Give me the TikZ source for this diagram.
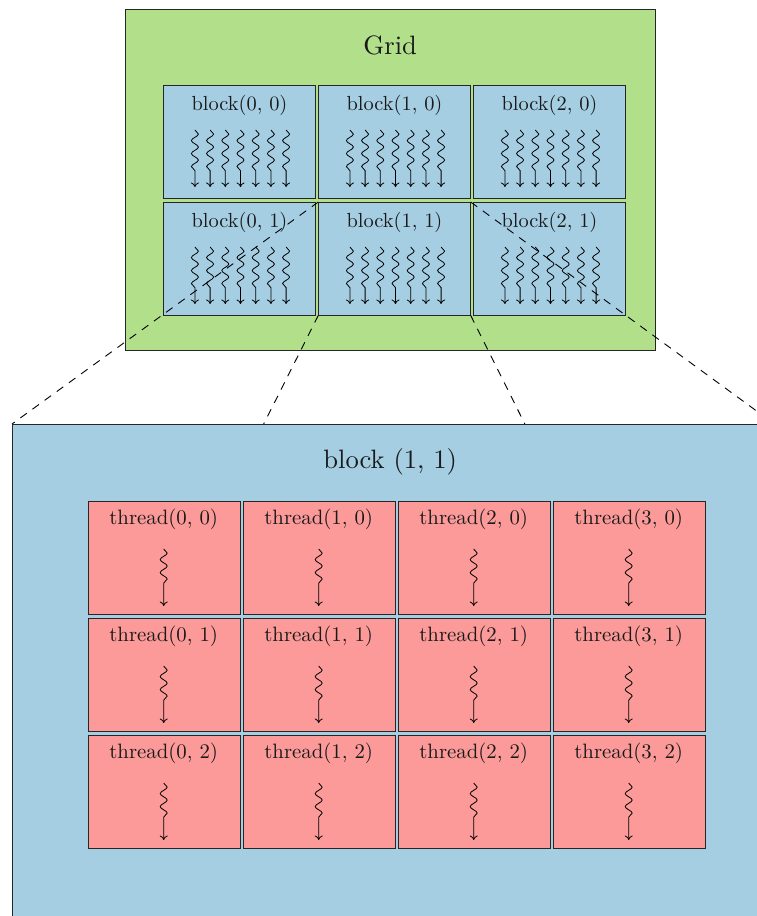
\documentclass[tikz,border=0pt]{standalone}
\usepackage{fontspec}
\setmainfont{lmroman10-regular.otf}
\usetikzlibrary{decorations.pathmorphing,arrows.meta}
\definecolor{gridgreen}{HTML}{B2DF8A}
\definecolor{blockblue}{HTML}{A6CEE3}
\definecolor{threadred}{HTML}{FB9A99}
\pgfdeclarelayer{lower}
\pgfdeclarelayer{dashes}
\pgfsetlayers{lower,dashes,main}
\begin{document}
\begin{tikzpicture}[x=1pt,y=-1pt,line width=0.9pt,
  cellbox/.style={draw=black!85,minimum width=152pt,minimum height=113pt,inner sep=0pt,anchor=north west},
  blockbox/.style={cellbox,fill=blockblue},
  threadbox/.style={cellbox,fill=threadred},
  gridbox/.style={draw=black!85,fill=gridgreen,minimum width=530pt,minimum height=341pt,inner sep=0pt,anchor=north west},
  bigbox/.style={draw=black!85,fill=blockblue,minimum width=762pt,minimum height=500pt,inner sep=0pt,anchor=north west},
  blocklabel/.style={font=\fontsize{20.4}{24}\selectfont,inner sep=0pt,text=black!90},
  threadlabel/.style={font=\fontsize{20.8}{25}\selectfont,inner sep=0pt,text=black!90},
  titlelabel/.style={font=\fontsize{26.6}{32}\selectfont,inner sep=0pt,text=black!90},
  squig/.style={-{To[length=4.5pt,width=8pt]},line width=0.8pt,decorate,decoration={snake,amplitude=3.5pt,segment length=13pt,post length=#1}},
  squig/.default=10pt,
  dashline/.style={line width=0.9pt,dash pattern=on 8pt off 7pt}
]
\useasboundingbox (0,0) rectangle (756,916);

\begin{pgfonlayer}{lower}
  \node[gridbox] (grid) at (125,9.3) {};
  \node[titlelabel] (gridtitle) at ([yshift=-35.7pt]grid.north) {Grid};
  \foreach \i in {0,1,2}{
    \foreach \j in {0,1}{
      \node[blockbox] (b\i\j) at ({163.3+155*\i},{85+117*\j}) {};
      \node[blocklabel] (bl\i\j) at ([yshift=-20pt]b\i\j.north) {block(\i, \j)};
      \foreach \k in {-3,...,3}{
        \draw[squig] ([xshift={\k*15.2pt+1pt},yshift=-45pt]b\i\j.north) -- ++(0,57);
      }
    }
  }
\end{pgfonlayer}

\node[bigbox] (big) at (12,424) {};
\node[titlelabel] (bigtitle) at ([xshift=-3pt,yshift=-38pt]big.north) {block (1, 1)};
\foreach \i in {0,1,2,3}{
  \foreach \j in {0,1,2}{
    \node[threadbox] (t\i\j) at ({87.5+155*\i},{501+117*\j}) {};
    \node[threadlabel] (tl\i\j) at ([yshift=-18pt]t\i\j.north) {thread(\i, \j)};
    \draw[squig=17pt] ([yshift=-48pt]t\i\j.north) -- ++(0,57);
  }
}

\begin{pgfonlayer}{dashes}
  \draw[dashline] (b11.north west) -- (big.north west);
  \draw[dashline] (b11.north east) -- (big.north east);
  \draw[dashline] (b11.south west) -- (big.south west);
  \draw[dashline] (b11.south east) -- (big.south east);
\end{pgfonlayer}
\end{tikzpicture}
\end{document}
